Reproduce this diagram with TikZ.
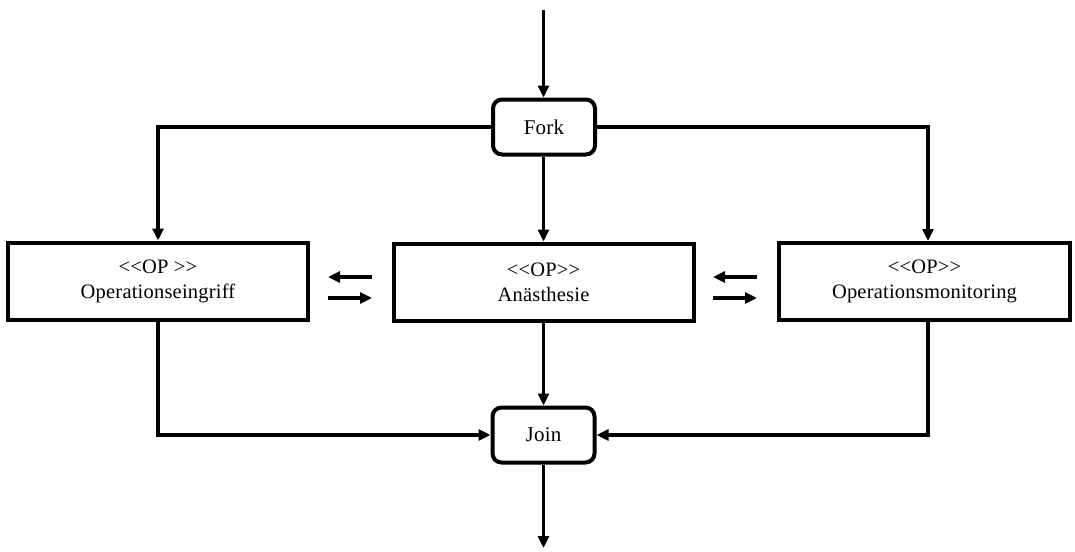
\documentclass[tikz,border=0pt]{standalone}
\usepackage{fontspec}
\newfontfamily\diagfont{Liberation Serif}[LetterSpace=1]
\usetikzlibrary{arrows.meta}
\begin{document}
\begin{tikzpicture}[x=1pt,y=-1pt,
  flow/.style={line width=3.6pt,-{Triangle[length=12pt,width=11pt]}},
  ctrl/.style={draw,line width=4pt,rounded corners=9pt,fill=white,font=\diagfont\fontsize{21}{25}\selectfont,
               minimum width=102pt,minimum height=55pt,inner sep=0pt},
  opbox/.style={draw,line width=4pt,fill=white,font=\diagfont\fontsize{20.5}{25}\selectfont,
                align=center,minimum height=77pt,inner sep=0pt}]
\useasboundingbox (0,0) rectangle (1075,551);

% control nodes
\node[ctrl] (fork) at (544,127) {Fork};
\node[ctrl] (join) at (543.5,435) {Join};

% activities
\node[opbox,minimum width=300pt] (eingriff) at (158,281)  {<<OP >>\\Operationseingriff};
\node[opbox,minimum width=300pt] (anae)     at (543.5,282)  {<<OP>>\\Anästhesie};
\node[opbox,minimum width=291pt] (monitor)  at (924.5,281.5) {<<OP>>\\Operationsmonitoring};

% entry and exit
\coordinate (start) at (543.5,10);
\coordinate (stop)  at (543.5,548);
\draw[flow] (start) -- (fork.north -| start);
\draw[flow] (join.south -| stop) -- (stop);

% fork branches
\draw[flow] (fork.west) -| (eingriff.north);
\draw[flow] (fork.south -| anae.north) -- (anae.north);
\draw[flow] (fork.east) -| ([xshift=3.5pt]monitor.north);

% join branches
\draw[flow] (eingriff.south) |- (join.west);
\draw[flow] (anae.south) -- (join.north -| anae.south);
\draw[flow] ([xshift=3.5pt]monitor.south) |- (join.east);

% interaction between activities
\coordinate (a1) at (328,277); \coordinate (a2) at (372,277);
\coordinate (a3) at (328,298); \coordinate (a4) at (372,298);
\coordinate (b1) at (713,277); \coordinate (b2) at (757,277);
\coordinate (b3) at (713,298); \coordinate (b4) at (757,298);
\draw[flow] (a2) -- (a1);
\draw[flow] (a3) -- (a4);
\draw[flow] (b2) -- (b1);
\draw[flow] (b3) -- (b4);
\end{tikzpicture}
\end{document}
